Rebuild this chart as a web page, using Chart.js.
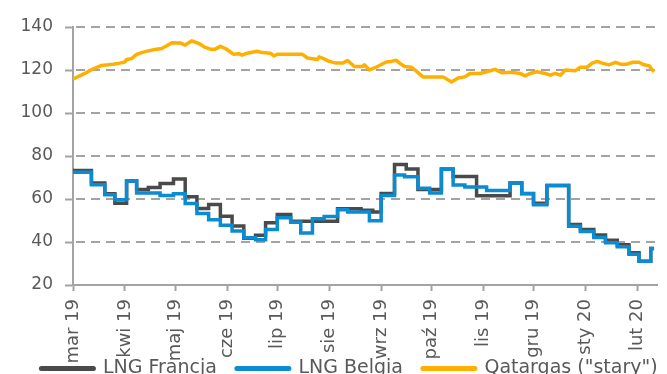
<!DOCTYPE html>
<html>
<head>
<meta charset="utf-8">
<script src="https://cdn.jsdelivr.net/npm/chart.js@4.4.1/dist/chart.umd.min.js"></script>
<style>
  html, body { margin: 0; padding: 0; background: #fff; overflow: hidden; }
  #wrap { width: 667px; height: 374px; overflow: hidden; }
</style>
</head>
<body>
<div id="wrap"><canvas id="myChart" width="667" height="418"></canvas></div>
<script>
// 월 눈금 (2019.03.01 기준 일수)
var monthLabels = ['mar 19', 'kwi 19', 'maj 19', 'cze 19', 'lip 19', 'sie 19', 'wrz 19', 'paź 19', 'lis 19', 'gru 19', 'sty 20', 'lut 20'];
var monthStart = [0, 31, 61, 92, 122, 153, 184, 214, 245, 275, 306, 337];

// LNG Francja - 주간 가격 (값이 바뀌는 날)
var franciaDays = [0, 11, 19, 25, 32, 38, 45, 52, 60, 67, 74, 81, 88, 95, 102, 109, 115, 122, 130, 158, 172, 179, 184, 192, 199, 206, 220, 227, 241, 261, 268, 275, 283, 296, 303, 311, 318, 325, 332, 338, 345, 347];
var franciaValues = [73.2, 67.5, 62.5, 58.0, 68.4, 64.4, 65.4, 67.2, 69.3, 61.0, 55.6, 57.4, 52.0, 47.5, 41.8, 43.1, 49.0, 52.8, 49.7, 55.5, 54.8, 53.9, 62.6, 76.0, 74.0, 64.4, 73.9, 70.5, 61.5, 67.5, 62.6, 58.0, 66.3, 48.1, 45.8, 43.2, 40.8, 38.7, 35.0, 31.0, 37.0, 37.0];

// LNG Belgia
var belgiaDays = [0, 11, 19, 25, 32, 38, 52, 60, 67, 74, 81, 88, 95, 102, 109, 115, 122, 130, 136, 143, 150, 158, 164, 177, 184, 192, 198, 206, 213, 220, 227, 234, 247, 261, 268, 275, 283, 296, 303, 311, 318, 325, 332, 338, 345, 347];
var belgiaValues = [72.4, 66.6, 62.0, 59.6, 68.4, 62.8, 61.6, 62.5, 57.9, 53.3, 50.3, 47.8, 45.1, 42.0, 41.0, 45.8, 51.3, 49.2, 44.2, 50.8, 51.9, 55.0, 53.9, 49.9, 61.6, 71.2, 70.3, 65.0, 62.8, 73.8, 66.5, 65.6, 64.0, 67.5, 62.4, 57.3, 66.3, 47.3, 44.9, 42.1, 39.7, 37.8, 34.3, 31.0, 37.0, 37.0];

// Qatargas ("stary")
var qatarDays = [0, 4, 7, 10, 13, 17, 21, 24, 28, 31, 32, 35, 38, 41, 45, 49, 53, 56, 59, 64, 67, 71, 75, 79, 82, 85, 88, 91, 94, 96, 99, 101, 104, 110, 113, 118, 120, 122, 133, 137, 140, 146, 147, 150, 153, 157, 161, 164, 168, 173, 174, 177, 181, 187, 190, 193, 195, 198, 202, 205, 209, 221, 226, 230, 234, 237, 243, 247, 252, 256, 262, 267, 270, 273, 277, 282, 285, 288, 291, 294, 300, 303, 307, 310, 313, 316, 320, 324, 327, 331, 334, 338, 341, 344, 346, 347];
var qatarValues = [115.7, 117.3, 118.4, 119.7, 120.8, 122.1, 122.4, 122.7, 123.2, 123.7, 124.9, 125.3, 127.3, 128.1, 128.9, 129.5, 130.0, 131.3, 132.7, 132.6, 131.6, 133.6, 132.4, 130.5, 129.7, 129.7, 131.0, 130.0, 128.4, 127.3, 127.6, 126.9, 127.8, 128.7, 128.1, 127.8, 126.5, 127.3, 127.3, 127.3, 125.6, 124.9, 126.1, 125.2, 124.0, 123.2, 123.2, 124.4, 121.6, 121.6, 122.4, 120.0, 121.3, 123.7, 124.0, 124.5, 123.2, 121.6, 121.3, 119.5, 116.8, 116.8, 114.4, 116.3, 116.8, 118.4, 118.4, 119.2, 120.3, 118.7, 118.9, 118.4, 117.3, 118.4, 119.2, 118.4, 117.6, 118.4, 117.6, 120.0, 119.7, 121.3, 121.3, 123.2, 124.0, 123.2, 122.4, 123.6, 122.7, 122.7, 123.6, 123.6, 122.4, 122.0, 120.0, 119.2];

var yTicks = [20, 40, 60, 80, 100, 120, 140];

function toPoints(days, values) {
    var pts = [];
    for (var i = 0; i < days.length; i++) {
        pts.push({ x: days[i], y: values[i] });
    }
    return pts;
}

var gridColor = '#a3a3a3';
var textColor = '#595959';
Chart.defaults.font.family = "'DejaVu Sans', Verdana, sans-serif";

// 범례 위치 조정 (오른쪽 + 위로)
var legendShift = {
    id: 'legendShift',
    afterLayout: function (chart) {
        var lg = chart.legend;
        lg.left += 17;
        lg.right += 17;
        lg.top -= 30;
        lg.bottom -= 30;
    }
};

// 점선 가로 그리드 - 짧은 사각형을 이어서 그림
var dashedGrid = {
    id: 'dashedGrid',
    beforeDatasetsDraw: function (chart) {
        var ctx = chart.ctx;
        var area = chart.chartArea;
        var yScale = chart.scales.y;
        var dash = 9, gap = 6;
        ctx.save();
        ctx.fillStyle = gridColor;
        yScale.ticks.forEach(function (t) {
            if (t.value === yScale.min) return;
            var y = Math.round(yScale.getPixelForValue(t.value));
            for (var x = area.left + 3; x < area.right; x += dash + gap) {
                ctx.fillRect(x, y - 1, Math.min(dash, area.right - x), 2);
            }
        });
        ctx.restore();
    }
};

var data = {
    datasets: [
        {
            label: 'LNG Francja',
            data: toPoints(franciaDays, franciaValues),
            borderColor: '#4a4a4a',
            backgroundColor: '#4a4a4a',
            borderWidth: 3.5,
            stepped: true,
            pointRadius: 0,
            order: 1   // 벨기에 선이 위에 오도록
        },
        {
            label: 'LNG Belgia',
            data: toPoints(belgiaDays, belgiaValues),
            borderColor: '#0b8bd2',
            backgroundColor: '#0b8bd2',
            borderWidth: 3.5,
            stepped: true,
            pointRadius: 0,
            order: 0
        },
        {
            label: 'Qatargas ("stary")',
            data: toPoints(qatarDays, qatarValues),
            borderColor: '#ffaf00',
            backgroundColor: '#ffaf00',
            borderWidth: 3.5,
            borderJoinStyle: 'round',
            pointRadius: 0,
            order: 0
        }
    ]
};

var config = {
    type: 'line',
    data: data,
    plugins: [legendShift, dashedGrid],
    options: {
        responsive: false,
        animation: false,
        devicePixelRatio: 1,
        layout: { padding: { top: 27, right: 2, left: 0, bottom: 0 } },
        plugins: {
            tooltip: { enabled: false },
            legend: {
                position: 'bottom',
                labels: {
                    color: textColor,
                    font: { size: 19 },
                    usePointStyle: true,
                    pointStyle: 'line',
                    pointStyleWidth: 52,
                    boxHeight: 19,
                    padding: 20,
                    generateLabels: function (chart) {
                        var items = Chart.defaults.plugins.legend.labels.generateLabels(chart);
                        items.forEach(function (it) {
                            it.lineWidth = 5;
                            it.lineCap = 'round';
                        });
                        return items;
                    },
                    sort: function (a, b) { return a.datasetIndex - b.datasetIndex; }
                }
            }
        },
        scales: {
            x: {
                type: 'linear',
                min: 0,
                max: 349,
                afterBuildTicks: function (scale) {
                    scale.ticks = monthStart.map(function (v) { return { value: v }; });
                },
                afterFit: function (scale) { scale.height = 84; },
                ticks: {
                    autoSkip: false,
                    minRotation: 90,
                    maxRotation: 90,
                    padding: 8,
                    color: textColor,
                    font: { size: 18 },
                    callback: function (value, index) { return monthLabels[index]; }
                },
                grid: {
                    color: 'rgba(0,0,0,0)',
                    drawOnChartArea: false,
                    drawTicks: true,
                    tickLength: 6,
                    tickWidth: 2,
                    tickColor: gridColor
                },
                border: { color: gridColor, width: 2 }
            },
            y: {
                min: 20,
                max: 140,
                afterBuildTicks: function (scale) {
                    scale.ticks = yTicks.map(function (v) { return { value: v }; });
                },
                afterFit: function (scale) { scale.width = 73; },
                ticks: {
                    padding: 12,
                    color: textColor,
                    font: { size: 17 }
                },
                grid: {
                    color: 'rgba(0,0,0,0)',
                    drawOnChartArea: false,
                    drawTicks: true,
                    tickLength: 8,
                    tickWidth: 2,
                    tickColor: gridColor
                },
                border: { color: gridColor, width: 2 }
            }
        }
    }
};

var myChart = new Chart(document.getElementById('myChart'), config);
</script>
</body>
</html>
